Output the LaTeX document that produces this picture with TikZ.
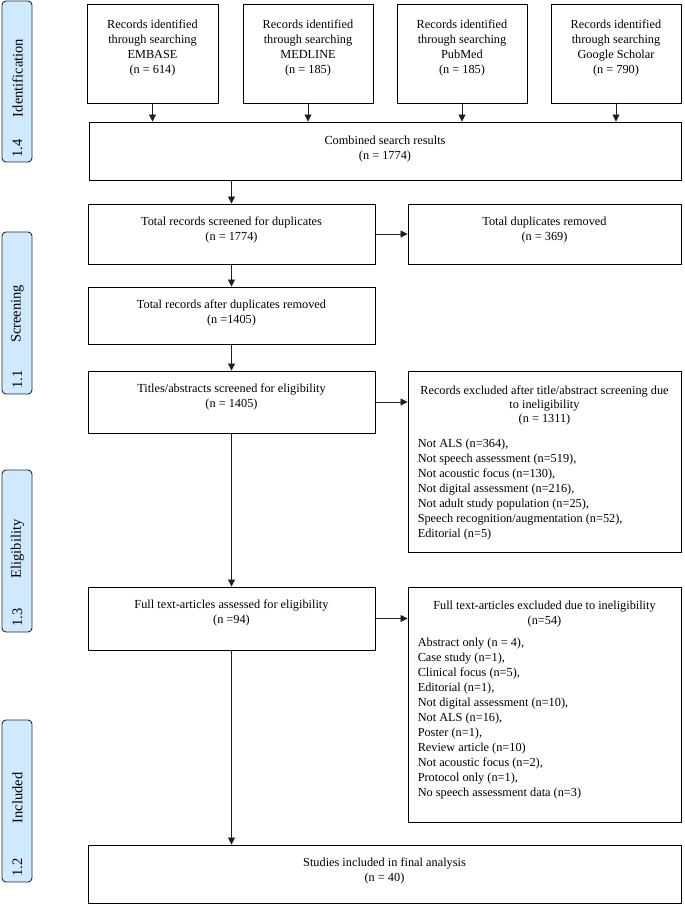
\documentclass[tikz,border=0pt]{standalone}
\usepackage{fontspec}
\setmainfont{Liberation Serif}
\usetikzlibrary{arrows.meta,calc}
\definecolor{phasefill}{RGB}{207,234,255}
\definecolor{phaseedge}{RGB}{40,40,40}
\definecolor{lineclr}{RGB}{30,30,30}
\tikzset{
  box/.style={draw=black, line width=0.9pt, fill=white, inner sep=0pt},
  txt/.style={align=center, inner sep=0pt, font=\fontsize{12.3}{15}\selectfont},
  ltxt/.style={align=left, inner sep=0pt, font=\fontsize{12.3}{15}\selectfont},
  phase/.style={draw=phaseedge, line width=0.9pt, fill=phasefill, rounded corners=4pt, minimum width=30pt, inner sep=0pt},
  ptxt/.style={rotate=90, inner sep=0pt, font=\fontsize{14.5}{17}\selectfont},
  arr/.style={draw=lineclr, line width=0.8pt, -{Triangle[length=7pt,width=7pt]}}
}
\begin{document}
\begin{tikzpicture}[x=1pt,y=-1pt]
\useasboundingbox (0,0) rectangle (685,911);
% phase labels
\node[phase, minimum height=161pt] (idl) at (17,81.5) {};
\node[ptxt] (idl-w) at (17.5,78) {Identification};
\node[ptxt] (idl-n) at ([xshift=0.5pt,yshift=14pt]idl.south) {1.4};
\node[phase, minimum height=162pt] (scl) at (17,313) {};
\node[ptxt] (scl-w) at (17.5,314) {Screening};
\node[ptxt] (scl-n) at ([xshift=0.5pt,yshift=15pt]scl.south) {1.1};
\node[phase, minimum height=162pt] (ell) at (17,551) {};
\node[ptxt] (ell-w) at (17.5,549) {Eligibility};
\node[ptxt] (ell-n) at ([xshift=0.5pt,yshift=15pt]ell.south) {1.3};
\node[phase, minimum height=162pt] (inl) at (17,801) {};
\node[ptxt] (inl-w) at (17.5,798) {Included};
\node[ptxt] (inl-n) at ([xshift=0.5pt,yshift=15pt]inl.south) {1.2};
% top boxes
\node[box, minimum width=131pt, minimum height=99pt] (emb) at (152.5,53.5) {};
\node[txt, anchor=north] (emb-t) at ([yshift=-16pt]emb.north) {Records identified\\through searching\\EMBASE\\(n = 614)};
\node[box, minimum width=130pt, minimum height=99pt] (med) at (308,53.5) {};
\node[txt, anchor=north] (med-t) at ([yshift=-16pt]med.north) {Records identified\\through searching\\MEDLINE\\(n = 185)};
\node[box, minimum width=130pt, minimum height=99pt] (pub) at (462,53.5) {};
\node[txt, anchor=north] (pub-t) at ([yshift=-16pt]pub.north) {Records identified\\through searching\\PubMed\\(n = 185)};
\node[box, minimum width=130pt, minimum height=99pt] (goo) at (616,53.5) {};
\node[txt, anchor=north] (goo-t) at ([yshift=-16pt]goo.north) {Records identified\\through searching\\Google Scholar\\(n = 790)};
% combined
\node[box, minimum width=592pt, minimum height=58pt] (comb) at (385,151) {};
\node[txt, anchor=north] (comb-t) at ([yshift=-14pt]comb.north) {Combined search results\\(n = 1774)};
% screened
\node[box, minimum width=287pt, minimum height=60pt] (scr) at (231.5,234) {};
\node[txt, anchor=north] (scr-t) at ([yshift=-13.5pt]scr.north) {Total records screened for duplicates\\(n = 1774)};
\node[box, minimum width=273pt, minimum height=60pt] (dup) at (544.5,234) {};
\node[txt, anchor=north] (dup-t) at ([yshift=-13.5pt]dup.north) {Total duplicates removed\\(n = 369)};
\node[box, minimum width=287pt, minimum height=57pt] (aft) at (231.5,315.5) {};
\node[txt, anchor=north] (aft-t) at ([yshift=-13.5pt]aft.north) {Total records after duplicates removed\\(n =1405)};
\node[box, minimum width=287pt, minimum height=62pt] (tit) at (231.5,402) {};
\node[txt, anchor=north] (tit-t) at ([yshift=-13.5pt]tit.north) {Titles/abstracts screened for eligibility\\(n = 1405)};
\node[box, minimum width=273pt, minimum height=181pt] (ex1) at (544.5,461.5) {};
\node[txt, anchor=north, font=\fontsize{12.3}{14}\selectfont] (ex1-t) at ([yshift=-15pt]ex1.north) {Records excluded after title/abstract screening due\\to ineligibility\\(n = 1311)};
\node[ltxt, anchor=north west] (ex1-l) at ([xshift=10pt,yshift=-68pt]ex1.north west) {Not ALS (n=364),\\Not speech assessment (n=519),\\Not acoustic focus (n=130),\\Not digital assessment (n=216),\\Not adult study population (n=25),\\Speech recognition/augmentation (n=52),\\Editorial (n=5)};
% eligibility
\node[box, minimum width=287pt, minimum height=63pt] (ful) at (231.5,618.5) {};
\node[txt, anchor=north] (ful-t) at ([yshift=-13.5pt]ful.north) {Full text-articles assessed for eligibility\\(n =94)};
\node[box, minimum width=273pt, minimum height=235pt] (ex2) at (544.5,704.5) {};
\node[txt, anchor=north] (ex2-t) at ([yshift=-14pt]ex2.north) {Full text-articles excluded due to ineligibility\\(n=54)};
\node[ltxt, anchor=north west] (ex2-l) at ([xshift=10pt,yshift=-51pt]ex2.north west) {Abstract only (n = 4),\\Case study (n=1),\\Clinical focus (n=5),\\Editorial (n=1),\\Not digital assessment (n=10),\\Not ALS (n=16),\\Poster (n=1),\\Review article (n=10)\\Not acoustic focus (n=2),\\Protocol only (n=1),\\No speech assessment data (n=3)};
% included
\node[box, minimum width=593pt, minimum height=58pt] (fin) at (384.5,874) {};
\node[txt, anchor=north] (fin-t) at ([yshift=-13pt]fin.north) {Studies included in final analysis\\(n = 40)};
% connectors
\draw[arr] (emb.south) -- (emb.south |- comb.north);
\draw[arr] (med.south) -- (med.south |- comb.north);
\draw[arr] (pub.south) -- (pub.south |- comb.north);
\draw[arr] (goo.south) -- (goo.south |- comb.north);
\draw[arr] (scr.north |- comb.south) -- (scr.north);
\draw[arr] (scr.east) -- (dup.west);
\draw[arr] (scr.south) -- (aft.north);
\draw[arr] (aft.south) -- (tit.north);
\draw[arr] (tit.east) -- (tit.east -| ex1.west);
\draw[arr] (tit.south) -- (ful.north);
\draw[arr] (ful.east) -- (ful.east -| ex2.west);
\draw[arr] (ful.south) -- (ful.south |- fin.north);
\end{tikzpicture}
\end{document}
